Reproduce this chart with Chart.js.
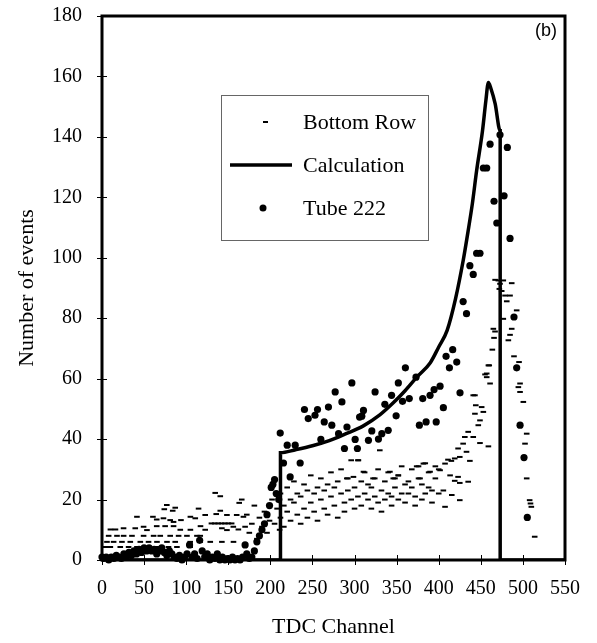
<!DOCTYPE html>
<html>
<head>
<meta charset="utf-8">
<script src="https://cdn.jsdelivr.net/npm/chart.js@4"></script>
<style>
html,body{margin:0;padding:0;background:#fff;}
canvas{display:block;}
</style>
</head>
<body>
<canvas id="c" width="597" height="643"></canvas>
<script>
// ---- data ----
const xTicks = [0,50,100,150,200,250,300,350,400,450,500,550];
const yTicks = [0,20,40,60,80,100,120,140,160,180];

const calcX = [0,212,212,230,250,270,290,310,330,346,360,374,390,400,410,420,429,435,440,445,452,456,459,462,467,473,473,550];
const calcY = [0,0,35.5,36.5,37.8,39.5,41.8,44.3,48,52,56,60.5,65.3,70.5,76,86.5,99,109,118,128.8,142,152,158,156,151,142,0,0];

const tubeX = [0,2,5,8,11,14,17,20,23,26,29,32,35,38,41,44,47,50,53,56,59,62,65,68,71,74,77,80,83,86,89,92,95,98,101,104,107,110,113,116,119,122,125,128,131,134,137,140,143,146,149,152,155,158,161,164,167,170,172,175,178,181,184,187,190,193,196,199,201,203,205,207,210,
 211.7,215.6,220,223.5,229.5,235.4,240.5,245,253,256,260,264,269,273,277,281,285,288,291,296.8,300.7,303.4,306,308.6,310.6,316.5,320.5,324.4,328.4,332.4,336,340,344,349.4,352,357,360.4,365,373,377,381,385,389.7,394.5,397,401.6,405.5,408.7,412.7,416.6,421.4,425.3,429,433,437,441,445,449,453,457,461,465.7,469,472.8,477.6,481.5,484.7,489.4,492.6,496.6,501.3,505.2];
const tubeY = [1,0.5,1,0,1,0.5,1.5,1,0.5,2,1,2.5,1.5,3,2,3.5,2.5,4,3,4,3,3.5,2,3,4,2.5,1.5,3,2,1,0.5,1.5,0,1,2,5,1,2,0.5,6.5,3,1,2,0,1,0.5,2,0,1,0,0.5,0,1,0,0.5,0,1,5,2,0.5,1,3,6,8,10,12,15,18,24,25,26.6,22,20,
 42,32.1,38,27.5,38,32.1,49.8,46.8,47.9,49.8,39.9,45.7,50.6,44.6,55.6,41.8,52.3,36.9,44,58.6,39.9,36.9,47.3,47.6,49.5,39.6,42.7,55.6,40,41.8,51.5,42.9,54.5,47.7,58.6,52.5,63.6,53.4,60.5,44.6,53.4,45.7,54.5,56.4,45.7,57.5,50.4,67.4,63.6,69.6,65.5,55.3,85.5,81.5,97.4,94.5,101.5,101.5,129.7,129.7,137.6,118.7,111.5,140.7,120.5,136.5,106.4,80.4,63.6,44.6,33.9,14.1];

const bottomX = [
 3.9,9.9,21.7,31.6,41.5,53.4,65.3,79,89,104.8,
 5.9,13.8,23.7,33.6,45.5,55.3,65.3,77.2,87,104.8,116.7,128.6,142.4,156.2,
 7.9,17.8,25.7,35.6,49.4,61.3,69.2,81,91,100.9,112.8,116.7,
 10,16,25.6,39.5,49.4,53.4,65,75,85,93,105,117,122.6,142.4,148.4,156,162,170,
 130,134,138,142,146,150,154,
 65,73,81,85,93.8,110.8,
 41.5,60.5,105,122.6,135.7,148.4,160,168,
 77,74,87,84,114.7,140.5,
 166,163,134.5,140.5,
 172,175,178,181,184,187,190,193,196,199,202,205,208,211,
 212,212,216,216,220,220,224,224,228,228,232,232,236,236,240,240,244,244,248,248,252,252,256,256,260,260,264,264,268,268,272,272,276,276,280,280,284,284,288,288,292,292,296,296,300,300,304,304,308,308,312,312,316,316,320,320,324,324,328,328,332,332,336,336,340,340,344,344,348,348,352,352,356,356,360,360,364,364,368,368,372,372,376,376,380,380,384,384,388,388,392,392,396,396,400,400,
 330,304.6,310.6,322,298.7,290.8,346,342,352,373.8,377.8,381.8,389.7,
 401.6,405.5,407.5,407.5,411,413.5,415,415.5,419,419,423,423,425,425,425,429,431,433,435,435,437,441,441,443,443,444,447,449,449,451,453,455,457,457,459,459,460,461,463.7,464.9,465.7,466.9,467,470.8,472,472.8,474.8,476.7,476.7,478.8,480.8,482.7,484.7,484.7,486.7,486.7,489.4,492.6,494.6,495.4,496.6,496.6,500.5,502.5,504.5,504.5,508,509,510,514];
const bottomY = [
 4.3,4.3,4.3,4.3,4.3,4.3,4.3,4.3,4.3,4.3,
 6,6,6,6,6,6,6,6,6,6,6,6,6,6,
 8,8,8,8,8,8,8,8,8,8,8,8,
 10.1,10.1,10.5,10.5,11,9.9,11.2,11.2,11.2,10,10,11.2,10,10.5,9.9,11,10.1,11,
 12.1,12.1,12.1,12.1,12.1,12.1,12.1,
 13.4,13.8,13.2,12.6,13.2,13.8,
 14.3,14.3,14.3,14.9,15.2,14.9,14.9,14.3,
 18.2,16.8,17.3,16.3,17,16.3,
 20,18.9,22.2,21.1,
 15,9,12,18,7,14,11,16,9,13,20,12,17,10,
 14,22,18,11,24,16,13,20,19,26,15,22,21,12,17,25,23,14,19,28,16,22,24,13,20,27,17,23,25,15,21,29,18,24,26,14,22,30,19,16,27,23,20,33,24,17,33,21,18,26,29,22,20,25,24,17,27,21,19,30,23,16,26,20,29,22,21,18,27,24,28,20,22,31,19,25,26,22,24,30,21,18,31,27,25,20,32,22,29,24,23,19,27,31,30,22,
 36.3,33,29.2,27,27.5,27,27,29.2,28,31,27,31.9,29.2,
 29.7,23,31.9,17.6,33.2,28,32.8,21.5,33.6,26.2,36.9,27.5,34.1,25.5,19.8,38.5,40.7,35.8,42.4,25.9,32.8,40.7,54.5,54.5,48.4,51.2,44.6,46.2,38.7,50.6,49,61.4,60.5,61.7,64.4,37.6,64.4,58.4,69.6,76.5,73.5,75.6,92.7,92.5,89.7,91.4,89,92.5,79.8,87.5,85.6,72.7,87.5,74.5,91.6,76.5,67.4,82.6,57.2,65.5,58.4,55.6,52.3,38.5,41.8,27,19.8,18.7,17.6,7.7];

const toPts = (xs, ys) => xs.map((x, i) => ({x: x, y: ys[i]}));

const SERIF = '"Liberation Serif", "Times New Roman", serif';

const framePlugin = {
  id: 'frame',
  afterDatasetsDraw(chart) {
    const {ctx, chartArea: a, scales} = chart;
    ctx.save();
    ctx.strokeStyle = '#000';
    ctx.lineWidth = 3;
    ctx.strokeRect(a.left, a.top, a.right - a.left, a.bottom - a.top);
    ctx.lineWidth = 1;
    xTicks.forEach(v => {
      const px = Math.round(scales.x.getPixelForValue(v)) + 0.5;
      ctx.beginPath(); ctx.moveTo(px, a.bottom - 5); ctx.lineTo(px, a.bottom + 5); ctx.stroke();
    });
    yTicks.forEach(v => {
      const py = Math.round(scales.y.getPixelForValue(v)) + 0.5;
      ctx.beginPath(); ctx.moveTo(a.left - 5, py); ctx.lineTo(a.left + 5, py); ctx.stroke();
    });
    // (b) label
    ctx.fillStyle = '#000';
    ctx.font = '18px "Liberation Sans", Arial, sans-serif';
    ctx.textAlign = 'center';
    ctx.textBaseline = 'middle';
    ctx.fillText('(b)', 546, 31);
    // legend box
    ctx.strokeStyle = '#666';
    ctx.lineWidth = 1;
    ctx.strokeRect(221.5, 95.5, 207, 145);
    ctx.font = '22px ' + SERIF;
    ctx.textAlign = 'left';
    ctx.fillStyle = '#000';
    ctx.fillText('Bottom Row', 303, 123);
    ctx.fillText('Calculation', 303, 166);
    ctx.fillText('Tube 222', 303, 209);
    ctx.strokeStyle = '#000';
    ctx.lineWidth = 2;
    ctx.beginPath(); ctx.moveTo(263, 122); ctx.lineTo(268, 122); ctx.stroke();
    ctx.lineWidth = 3.5;
    ctx.beginPath(); ctx.moveTo(230, 165); ctx.lineTo(292, 165); ctx.stroke();
    ctx.beginPath(); ctx.arc(263, 208, 3.5, 0, Math.PI * 2); ctx.fill();
    ctx.restore();
  }
};

new Chart(document.getElementById('c'), {
  type: 'scatter',
  data: {
    datasets: [
      {
        label: 'Bottom Row',
        data: toPts(bottomX, bottomY),
        pointStyle: 'line',
        pointRadius: 2.8,
        borderColor: '#000',
        backgroundColor: '#000',
        borderWidth: 2,
        showLine: false,
        clip: false
      },
      {
        label: 'Calculation',
        data: toPts(calcX, calcY),
        showLine: true,
        borderColor: '#000',
        borderWidth: 3.5,
        pointRadius: 0,
        cubicInterpolationMode: 'monotone',
        fill: false
      },
      {
        label: 'Tube 222',
        data: toPts(tubeX, tubeY),
        pointStyle: 'circle',
        pointRadius: 3.6,
        backgroundColor: '#000',
        borderColor: '#000',
        borderWidth: 0,
        showLine: false,
        clip: false
      }
    ]
  },
  options: {
    responsive: false,
    animation: false,
    devicePixelRatio: 1,
    layout: {padding: {top: 16, right: 32, left: 0, bottom: 0}},
    plugins: {legend: {display: false}, tooltip: {enabled: false}},
    scales: {
      x: {
        type: 'linear', min: 0, max: 550,
        grid: {display: false},
        border: {display: false},
        afterFit: s => { s.height = 83; s.paddingLeft = 0; s.paddingRight = 0; },
        afterBuildTicks: s => { s.ticks = xTicks.map(v => ({value: v})); },
        ticks: {color: '#000', font: {family: SERIF, size: 20}, padding: 9, maxRotation: 0, autoSkip: false},
        title: {display: true, text: 'TDC Channel', color: '#000', font: {family: SERIF, size: 22}, padding: {top: 0, bottom: 3}}
      },
      y: {
        type: 'linear', min: 0, max: 180,
        grid: {display: false},
        border: {display: false},
        afterFit: s => { s.width = 102; s.paddingTop = 0; s.paddingBottom = 0; },
        afterBuildTicks: s => { s.ticks = yTicks.map(v => ({value: v})); },
        ticks: {color: '#000', font: {family: SERIF, size: 20}, padding: 12, autoSkip: false},
        title: {display: true, text: 'Number of events', color: '#000', font: {family: SERIF, size: 22}, padding: {top: 14, bottom: 0}}
      }
    }
  },
  plugins: [framePlugin]
});
</script>
</body>
</html>
